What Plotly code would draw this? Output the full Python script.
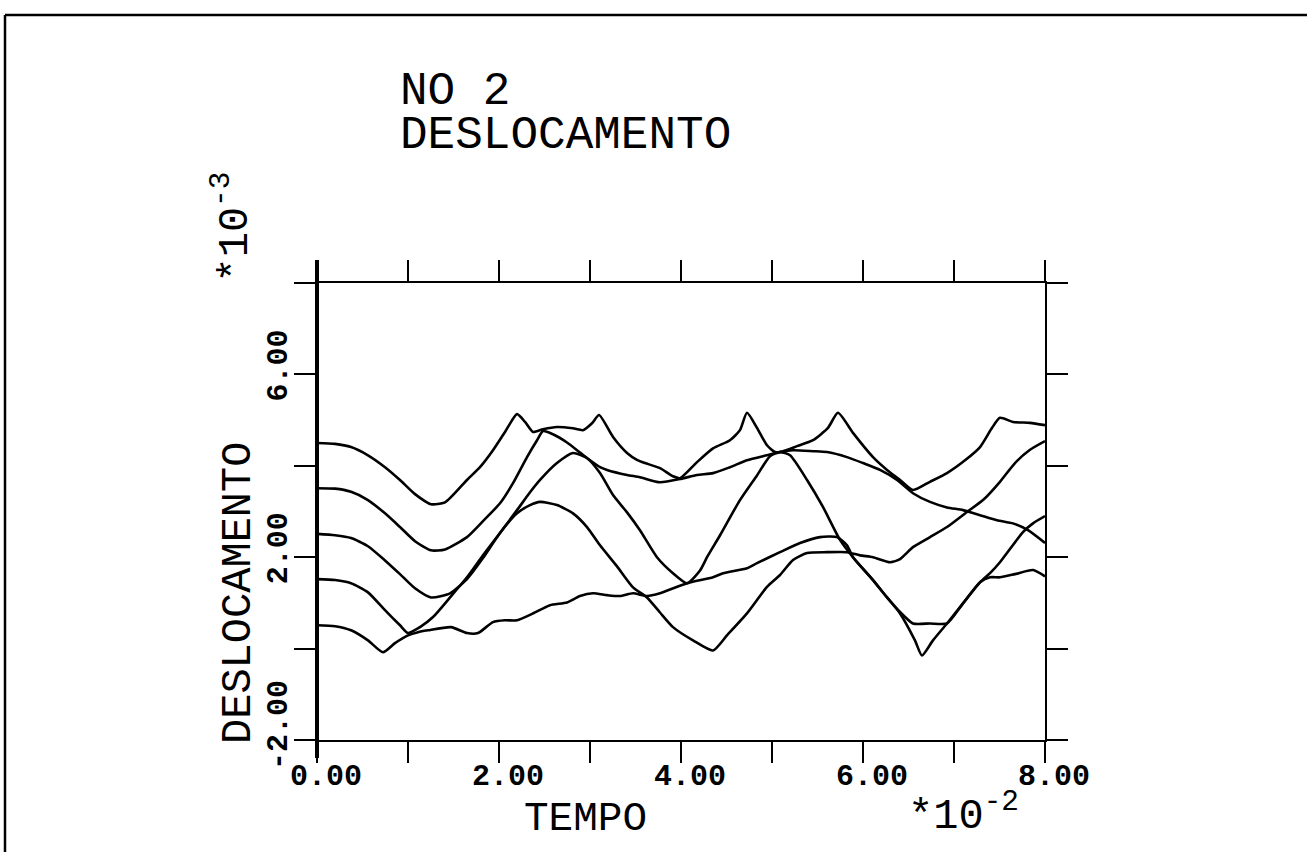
import plotly.graph_objects as go

# ---- time axis (units of 1e-2) and displacement (units of 1e-3) for the five traces ----
t_c1 = [0.0, 0.198, 0.374, 0.56, 0.747, 0.912, 1.077, 1.253, 1.407, 1.648, 1.791, 1.934, 2.066, 2.198,
        2.286, 2.374, 2.484, 2.637, 2.813, 2.923, 3.022, 3.099, 3.253, 3.407, 3.516, 3.604, 3.769, 3.912,
        3.989, 4.176, 4.352, 4.538, 4.648, 4.725, 4.835, 4.945, 5.033, 5.088, 5.275, 5.451, 5.615, 5.725,
        5.89, 6.11, 6.264, 6.407, 6.549, 6.736, 6.923, 7.121, 7.286, 7.418, 7.505, 7.648, 7.835, 8.0]
y_c1 = [4.50, 4.48, 4.41, 4.23, 3.97, 3.69, 3.38, 3.16, 3.20, 3.69, 3.97, 4.34, 4.74, 5.13,
        4.96, 4.74, 4.80, 4.85, 4.82, 4.78, 4.93, 5.11, 4.63, 4.28, 4.13, 4.06, 3.95, 3.77,
        3.73, 4.08, 4.38, 4.56, 4.78, 5.16, 4.83, 4.45, 4.30, 4.30, 4.43, 4.56, 4.83, 5.16,
        4.72, 4.19, 3.91, 3.69, 3.47, 3.65, 3.84, 4.12, 4.41, 4.83, 5.05, 4.96, 4.94, 4.89]

t_c2 = [0.0, 0.198, 0.374, 0.56, 0.747, 0.912, 1.077, 1.253, 1.407, 1.648, 1.824, 2.011, 2.154, 2.308,
        2.418, 2.484, 2.593, 2.747, 2.89, 3.0, 3.11, 3.187, 3.407, 3.549, 3.769, 3.989, 4.176, 4.352,
        4.538, 4.725, 4.945, 5.088, 5.231, 5.451, 5.604, 5.824, 6.0, 6.187, 6.374, 6.549, 6.736, 6.923,
        7.099, 7.286, 7.473, 7.648, 7.813, 8.0]
y_c2 = [3.51, 3.50, 3.43, 3.25, 2.96, 2.66, 2.35, 2.15, 2.17, 2.44, 2.79, 3.18, 3.62, 4.19,
        4.56, 4.76, 4.69, 4.51, 4.29, 4.12, 3.97, 3.91, 3.80, 3.75, 3.64, 3.71, 3.80, 3.84,
        3.97, 4.12, 4.23, 4.30, 4.34, 4.32, 4.30, 4.19, 4.06, 3.91, 3.69, 3.40, 3.21, 3.09,
        3.03, 2.92, 2.81, 2.74, 2.59, 2.31]

t_c3 = [0.0, 0.198, 0.374, 0.56, 0.747, 0.912, 1.077, 1.253, 1.462, 1.648, 1.824, 2.011, 2.198, 2.341,
        2.451, 2.637, 2.813, 2.967, 3.11, 3.297, 3.473, 3.626, 3.769, 3.912, 4.132, 4.352, 4.505, 4.725,
        4.945, 5.088, 5.231, 5.385, 5.604, 5.824, 5.967, 6.11, 6.297, 6.407, 6.549, 6.736, 6.923, 7.143,
        7.319, 7.505, 7.67, 7.835, 8.0]
y_c3 = [2.51, 2.48, 2.42, 2.24, 1.93, 1.63, 1.32, 1.12, 1.21, 1.52, 1.98, 2.53, 2.96, 3.14,
        3.21, 3.14, 2.96, 2.66, 2.26, 1.80, 1.34, 1.12, 0.79, 0.47, 0.18, -0.04, 0.29, 0.77,
        1.35, 1.61, 1.94, 2.09, 2.11, 2.11, 2.04, 2.00, 1.89, 1.96, 2.22, 2.44, 2.66, 2.99,
        3.25, 3.65, 4.06, 4.35, 4.54]

t_c4 = [0.0, 0.198, 0.374, 0.56, 0.747, 0.912, 1.0, 1.132, 1.275, 1.462, 1.648, 1.824, 2.011, 2.198,
        2.341, 2.451, 2.637, 2.813, 2.967, 3.11, 3.253, 3.407, 3.549, 3.736, 3.912, 4.066, 4.209, 4.286,
        4.429, 4.648, 4.835, 4.978, 5.088, 5.198, 5.385, 5.56, 5.747, 5.89, 6.11, 6.264, 6.407, 6.571,
        6.648, 6.769, 6.923, 7.099, 7.286, 7.396, 7.505, 7.758, 7.868, 8.0]
y_c4 = [1.52, 1.50, 1.43, 1.23, 0.84, 0.51, 0.34, 0.47, 0.69, 1.12, 1.56, 2.04, 2.53, 3.03,
        3.42, 3.69, 4.06, 4.28, 4.17, 3.84, 3.36, 2.98, 2.59, 2.00, 1.65, 1.43, 1.71, 2.00,
        2.48, 3.25, 3.79, 4.21, 4.30, 4.23, 3.69, 3.10, 2.38, 2.00, 1.50, 1.12, 0.77, 0.18,
        -0.15, 0.18, 0.55, 0.99, 1.45, 1.65, 1.89, 2.55, 2.74, 2.90]

t_c5 = [0.0, 0.198, 0.374, 0.56, 0.725, 0.857, 1.0, 1.11, 1.22, 1.473, 1.648, 1.769, 1.934, 2.066,
        2.198, 2.374, 2.56, 2.747, 2.89, 3.033, 3.187, 3.33, 3.473, 3.626, 3.769, 4.066, 4.352, 4.462,
        4.725, 4.835, 5.088, 5.308, 5.527, 5.714, 5.824, 5.89, 6.11, 6.264, 6.407, 6.549, 6.736, 6.923,
        7.099, 7.286, 7.396, 7.505, 7.67, 7.868, 8.0]
y_c5 = [0.51, 0.49, 0.40, 0.18, -0.08, 0.12, 0.29, 0.36, 0.40, 0.47, 0.34, 0.34, 0.58, 0.62,
        0.62, 0.77, 0.95, 1.01, 1.15, 1.21, 1.17, 1.15, 1.21, 1.15, 1.21, 1.43, 1.56, 1.65,
        1.76, 1.87, 2.11, 2.31, 2.44, 2.44, 2.26, 2.00, 1.50, 1.12, 0.80, 0.55, 0.55, 0.55,
        0.99, 1.45, 1.56, 1.56, 1.63, 1.72, 1.58]

x_tick_vals = [0, 2, 4, 6, 8]
x_tick_text = ["0.00", "2.00", "4.00", "6.00", "8.00"]
y_tick_vals = [-2, 2, 6]
y_tick_text = ["-2.00", "2.00", "6.00"]

FONT = "Liberation Mono"
INK = "black"

# plot area in page pixels
L, R, T, B = 317, 1045, 283, 740


def px(xp):
    return (xp - L) / (R - L)


def py(yp):
    return (B - yp) / (B - T)


fig = go.Figure()
for tx, yy in [(t_c1, y_c1), (t_c2, y_c2), (t_c3, y_c3), (t_c4, y_c4), (t_c5, y_c5)]:
    fig.add_trace(go.Scatter(x=tx, y=yy, mode="lines",
                             line=dict(color=INK, width=2.6, shape="spline", smoothing=0.6),
                             showlegend=False, hoverinfo="skip"))

axis_common = dict(showgrid=False, zeroline=False, showline=True, linecolor=INK,
                   linewidth=2, mirror="allticks", ticks="outside", ticklen=21,
                   tickwidth=2, tickcolor=INK, showticklabels=False, fixedrange=True)

fig.update_layout(
    width=1307, height=852,
    margin=dict(l=L, r=1307 - R, t=T, b=852 - B),
    paper_bgcolor="white", plot_bgcolor="white",
    xaxis=dict(range=[0, 8], dtick=1, tick0=0, **axis_common),
    yaxis=dict(range=[-2, 8], dtick=2, tick0=-2, **axis_common),
)

shapes = [
    # heavier left axis stroke
    dict(type="line", xref="paper", yref="paper", x0=0, x1=0, y0=py(758), y1=py(260),
         line=dict(color=INK, width=4)),
    # page frame (top and left edges)
    dict(type="line", xref="paper", yref="paper", x0=px(5), x1=px(1307), y0=py(15), y1=py(15),
         line=dict(color=INK, width=2.5)),
    dict(type="line", xref="paper", yref="paper", x0=px(5), x1=px(5), y0=py(15), y1=py(852),
         line=dict(color=INK, width=2.5)),
]
fig.update_layout(shapes=shapes)

ann = []
# title block
ann.append(dict(text="NO 2", x=px(398), y=py(92), xanchor="left", yanchor="middle"))
ann.append(dict(text="DESLOCAMENTO", x=px(398), y=py(136), xanchor="left", yanchor="middle"))
for a in ann:
    a.update(xref="paper", yref="paper", showarrow=False,
             font=dict(family=FONT, size=46, color=INK))

# axis titles
ann.append(dict(text="TEMPO", xref="paper", yref="paper", x=px(585), y=py(819),
                xanchor="center", yanchor="middle", showarrow=False,
                font=dict(family=FONT, size=41, color=INK)))
ann.append(dict(text="DESLOCAMENTO", xref="paper", yref="paper", x=px(239), y=py(593),
                xanchor="center", yanchor="middle", textangle=-90, showarrow=False,
                font=dict(family=FONT, size=42, color=INK)))

# scale factors
ann.append(dict(text="*10<sup>-2</sup>", xref="paper", yref="paper", x=px(906), y=py(843),
                xanchor="left", yanchor="bottom", showarrow=False,
                font=dict(family=FONT, size=42, color=INK)))
ann.append(dict(text="*10<sup>-3</sup>", xref="paper", yref="paper", x=px(233), y=py(285),
                xanchor="center", yanchor="bottom", textangle=-90, showarrow=False,
                font=dict(family=FONT, size=42, color=INK)))

# tick labels (decimal point sits on the tick)
for v, s in zip(x_tick_vals, x_tick_text):
    ann.append(dict(text=s, xref="x", yref="paper", x=v, y=py(777), xshift=9,
                    xanchor="center", yanchor="middle", showarrow=False,
                    font=dict(family=FONT, size=30, color=INK, weight="bold")))
for v, s in zip(y_tick_vals, y_tick_text):
    shift = 9 if v != -2 else 15
    ann.append(dict(text=s, xref="paper", yref="y", x=px(279), y=v, yshift=shift,
                    xanchor="center", yanchor="middle", textangle=-90, showarrow=False,
                    font=dict(family=FONT, size=30, color=INK, weight="bold")))

fig.update_layout(annotations=ann)
fig.write_html("out.html")
